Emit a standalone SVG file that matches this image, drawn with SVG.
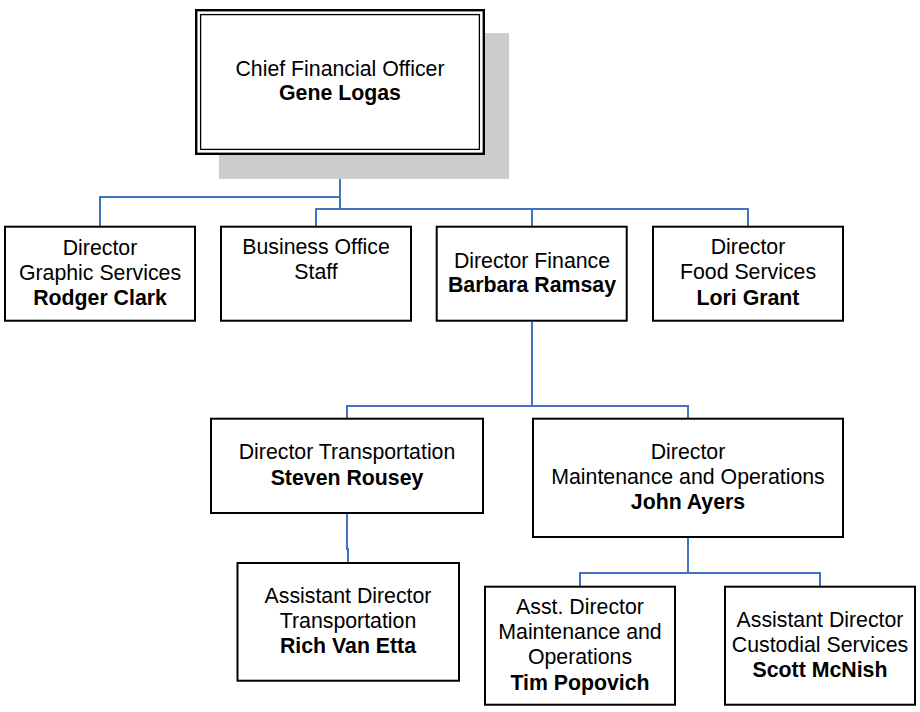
<svg xmlns="http://www.w3.org/2000/svg" width="920" height="712" viewBox="0 0 920 712">
<style>
.box{fill:#ffffff;stroke:#000000;stroke-width:2}
.t{font-family:"Liberation Sans",Arial,sans-serif;font-size:21.3px;fill:#000000;text-anchor:middle}
.b{font-weight:bold}
.c{fill:none;stroke:#4472C4;stroke-width:2}
</style>
<rect x="0" y="0" width="920" height="712" fill="#ffffff"/>
<g id="connectors">
<path class="c" d="M340,154 V209"/>
<path class="c" d="M340,197 H100 V226"/>
<path class="c" d="M316,226 V209 H748 V226"/>
<path class="c" d="M532,209 V226"/>
<path class="c" d="M532,322 V406"/>
<path class="c" d="M347,418 V406 H688 V418"/>
<path class="c" d="M347,514 V549 H348 V562"/>
<path class="c" d="M688,538 V573"/>
<path class="c" d="M580,586 V573 H820 V586"/>
</g>
<g id="cfo">
<rect x="219" y="33" width="290" height="146" fill="#cccccc"/>
<rect x="196.2" y="10.2" width="287.6" height="143.6" fill="#ffffff" stroke="#000000" stroke-width="2.4"/>
<rect x="200.6" y="14.6" width="278.8" height="134.8" fill="none" stroke="#000000" stroke-width="1.3"/>
<text class="t" x="340" y="76">Chief Financial Officer</text>
<text class="t b" x="340" y="100">Gene Logas</text>
</g>
<g id="graphic">
<rect class="box" x="5" y="226.7" width="190" height="94"/>
<text class="t" x="100" y="255">Director</text>
<text class="t" x="100" y="280">Graphic Services</text>
<text class="t b" x="100" y="305">Rodger Clark</text>
</g>
<g id="business">
<rect class="box" x="221" y="226.7" width="190" height="94"/>
<text class="t" x="316" y="254">Business Office</text>
<text class="t" x="316" y="279">Staff</text>
</g>
<g id="finance">
<rect class="box" x="436.7" y="226.7" width="190" height="94"/>
<text class="t" x="532" y="267.7">Director Finance</text>
<text class="t b" x="532" y="292.3">Barbara Ramsay</text>
</g>
<g id="food">
<rect class="box" x="653" y="226.7" width="190" height="94"/>
<text class="t" x="748" y="254">Director</text>
<text class="t" x="748" y="279">Food Services</text>
<text class="t b" x="748" y="305">Lori Grant</text>
</g>
<g id="transportation">
<rect class="box" x="211" y="418.7" width="272" height="94.3"/>
<text class="t" x="347" y="459.3">Director Transportation</text>
<text class="t b" x="347" y="485">Steven Rousey</text>
</g>
<g id="maintenance">
<rect class="box" x="533" y="418.7" width="310" height="118.3"/>
<text class="t" x="688" y="459.3">Director</text>
<text class="t" x="688" y="483.5">Maintenance and Operations</text>
<text class="t b" x="688" y="509.3">John Ayers</text>
</g>
<g id="asst-transportation">
<rect class="box" x="237.5" y="563" width="221.5" height="117.7"/>
<text class="t" x="348" y="602.7">Assistant Director</text>
<text class="t" x="348" y="627.7">Transportation</text>
<text class="t b" x="348" y="653.3">Rich Van Etta</text>
</g>
<g id="asst-maintenance">
<rect class="box" x="485" y="586.7" width="190" height="118"/>
<text class="t" x="580" y="614">Asst. Director</text>
<text class="t" x="580" y="639.3">Maintenance and</text>
<text class="t" x="580" y="664">Operations</text>
<text class="t b" x="580" y="690">Tim Popovich</text>
</g>
<g id="custodial">
<rect class="box" x="725" y="586.7" width="190" height="118"/>
<text class="t" x="820" y="626.7">Assistant Director</text>
<text class="t" x="820" y="651.7">Custodial Services</text>
<text class="t b" x="820" y="677.3">Scott McNish</text>
</g>
</svg>
